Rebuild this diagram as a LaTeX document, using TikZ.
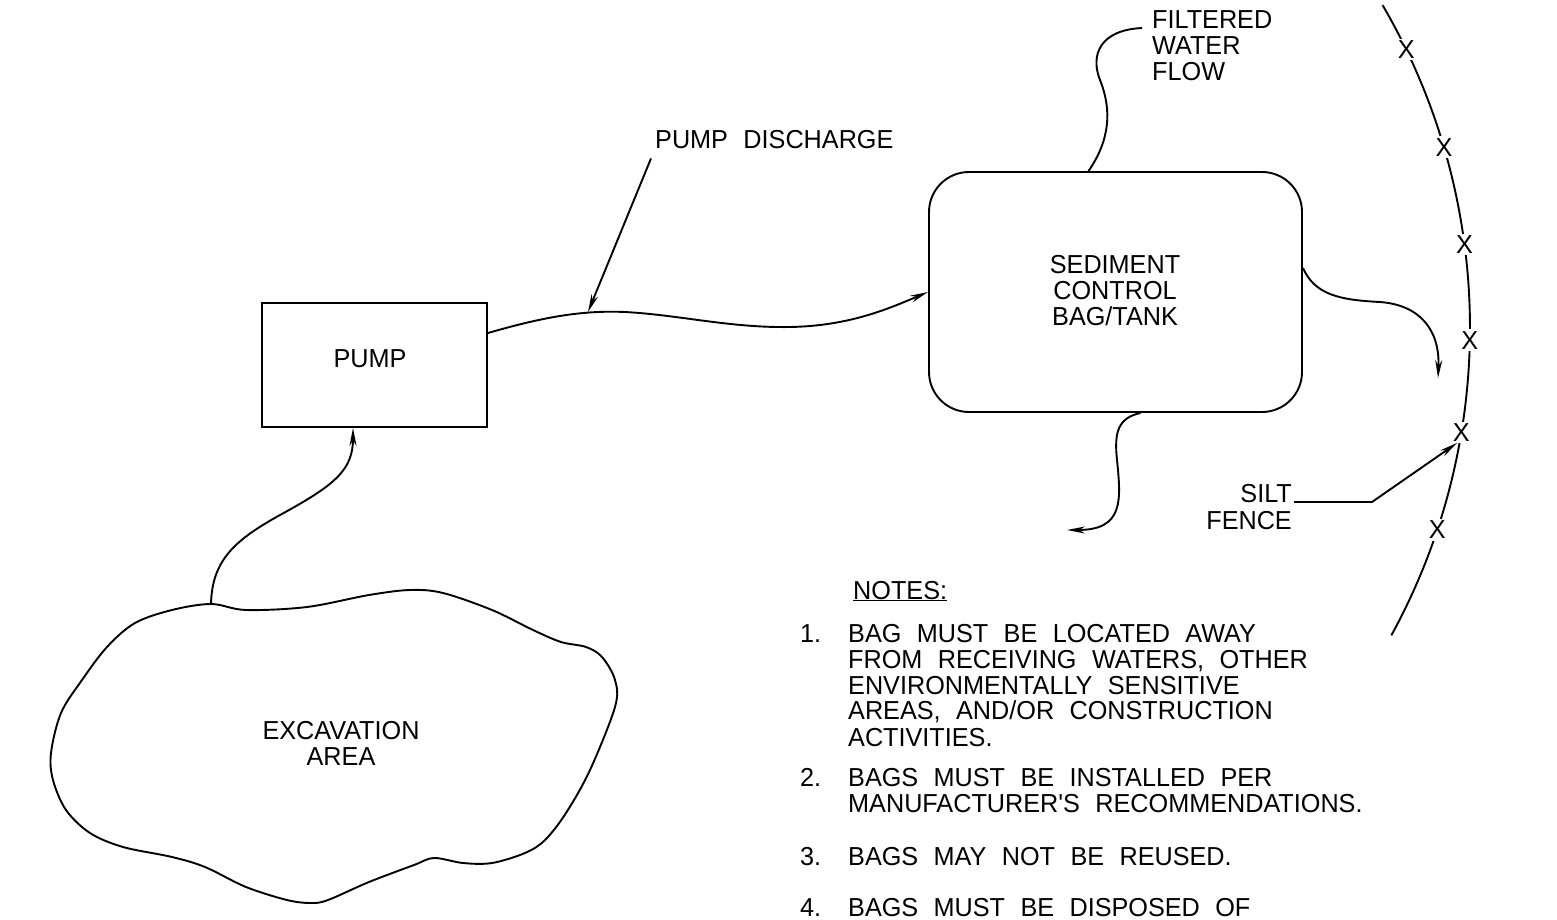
\documentclass[tikz,border=0pt]{standalone}
\usepackage{fontspec}
\newfontfamily\cad{Liberation Sans}[FakeStretch=0.97,WordSpace=2.2]
\usetikzlibrary{arrows.meta,calc}
\begin{document}
\begin{tikzpicture}[x=1pt,y=-1pt,
  ln/.style={line width=1.9pt},
  arr/.style={ln,-{Stealth[length=18pt,width=7pt]}},
  txt/.style={font=\cad\fontsize{26}{26}\selectfont, inner sep=0pt},
  box/.style={draw, ln, inner sep=0pt},
  xmark/.style={txt, fill=white, inner sep=2pt}]
\useasboundingbox (0,0) rectangle (1557,920);

% shapes
\node[box, minimum width=225pt, minimum height=124pt] (pump) at (374.5,365) {};
\node[box, rounded corners=40pt, minimum width=373pt, minimum height=240pt] (bag) at (1115.5,292) {};
\draw[ln] plot[smooth cycle, tension=0.55] coordinates {
 (211,604) (246,610) (307,607) (369,595) (410,590) (443,593) (492,610) (533,630)
 (561,642) (586,647) (602,657) (615,680) (615,707) (590,770) (566,813) (545,840)
 (525,853) (492,863) (463,863) (434,858) (414,865) (369,882) (328,900) (311,903)
 (287,900) (246,887) (205,867) (172,857) (123,847) (90,833) (66,810) (53,780)
 (51,753) (61,713) (82,680) (107,647) (135,623) (172,610)};
\coordinate (exctop) at (211,604);

% texts
\node[txt, anchor=base] (tpump) at (370,367) {PUMP};
\node[txt, anchor=base] (tsed1) at (1115,273) {SEDIMENT};
\node[txt, anchor=base] (tsed2) at (1115,299) {CONTROL};
\node[txt, anchor=base] (tsed3) at (1115,325) {BAG/TANK};
\node[txt, anchor=base] (texc1) at (341,739) {EXCAVATION};
\node[txt, anchor=base] (texc2) at (341,765) {AREA};
\node[txt, anchor=base west] (pd) at (655,149) {PUMP DISCHARGE};
\node[txt, anchor=base west] (fw1) at (1152,29) {FILTERED};
\node[txt, anchor=base west] (fw2) at (1152,55) {WATER};
\node[txt, anchor=base west] (fw3) at (1152,81) {FLOW};
\node[txt, anchor=base east] (silt) at (1292,502) {SILT};
\node[txt, anchor=base east] (fence) at (1292,529) {FENCE};

\node[txt, anchor=base west] (notes) at (853,599) {\underline{NOTES:}};
\node[txt, anchor=base west] (n1) at (800,642) {1.};
\node[txt, anchor=base west] (n1a) at (848,642) {BAG MUST BE LOCATED AWAY};
\node[txt, anchor=base west] (n1b) at (848,668) {FROM RECEIVING WATERS, OTHER};
\node[txt, anchor=base west] (n1c) at (848,694) {ENVIRONMENTALLY SENSITIVE};
\node[txt, anchor=base west] (n1d) at (848,719) {AREAS, AND/OR CONSTRUCTION};
\node[txt, anchor=base west] (n1e) at (848,746) {ACTIVITIES.};
\node[txt, anchor=base west] (n2) at (800,786) {2.};
\node[txt, anchor=base west] (n2a) at (848,786) {BAGS MUST BE INSTALLED PER};
\node[txt, anchor=base west] (n2b) at (848,812) {MANUFACTURER'S RECOMMENDATIONS.};
\node[txt, anchor=base west] (n3) at (800,865) {3.};
\node[txt, anchor=base west] (n3a) at (848,865) {BAGS MAY NOT BE REUSED.};
\node[txt, anchor=base west] (n4) at (800,916) {4.};
\node[txt, anchor=base west] (n4a) at (848,916) {BAGS MUST BE DISPOSED OF};

% silt fence
\draw[ln] (830,328) ++(-30.3:640) arc[start angle=-30.3, end angle=28.7, radius=640];
\path (830,328) ++(-25.8:640) node[xmark] (x1) {X};
\path (830,328) ++(-16.4:640) node[xmark] (x2) {X};
\path (830,328) ++(-7.5:640) node[xmark] (x3) {X};
\path (830,328) ++(1.1:640) node[xmark] (x4) {X};
\path (830,328) ++(9.4:640) node[xmark] (x5) {X};
\path (830,328) ++(18.4:640) node[xmark] (x6) {X};

% connectors
\draw[arr] (exctop) .. controls (212,560) and (235,540) .. (280,515)
  .. controls (335,485) and (353,470) .. ([xshift=-21.5pt]pump.south);
\draw[arr] ([yshift=32pt]pump.east) .. controls (540,318) and (580,310) .. (625,312)
  .. controls (680,315) and (730,328) .. (790,327)
  .. controls (850,326) and (890,308) .. (bag.west);
\coordinate (pdend) at (588,312);
\draw[arr] ([shift={(-4pt,-9pt)}]pd.south west) -- (pdend);
\coordinate (fwend) at (1142,28);
\draw[ln] ([xshift=-27pt]bag.north) .. controls (1110,140) and (1112,110) .. (1100,80)
  .. controls (1090,55) and (1100,30) .. (fwend);
\coordinate (rend) at (1438,378);
\draw[arr] ([yshift=24pt]bag.east) .. controls (1315,295) and (1340,300) .. (1380,302)
  .. controls (1420,305) and (1440,330) .. (rend);
\coordinate (bend) at (1067,530);
\draw[arr] ([xshift=25pt]bag.south) .. controls (1118,418) and (1114,432) .. (1117,460)
  .. controls (1121,500) and (1124,530) .. (bend);
\coordinate (sfknee) at (1372,502);
\coordinate (sftip) at (1457,443);
\draw[arr] ([xshift=2pt]silt.base east) -- (sfknee) -- (sftip);
\end{tikzpicture}
\end{document}
